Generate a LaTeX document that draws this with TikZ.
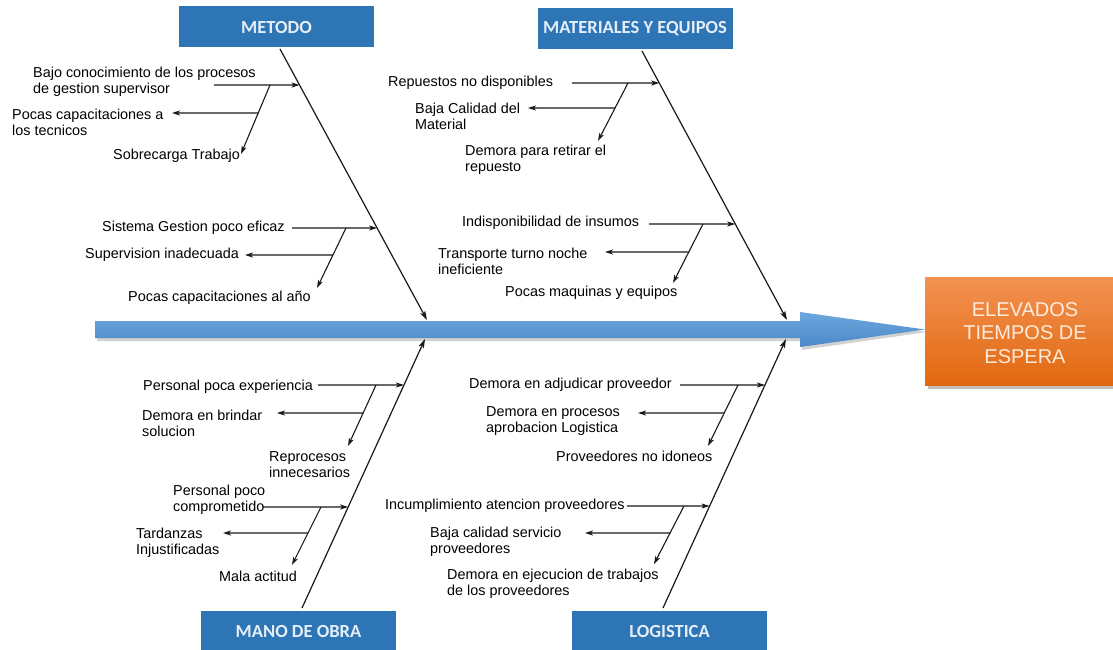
\documentclass[tikz,border=0pt]{standalone}
\usepackage{fontspec}
\setmainfont{Liberation Sans}
\newfontfamily\capfont{Carlito}
\usetikzlibrary{arrows.meta,calc}

\definecolor{catblue}{HTML}{2E75B6}
\definecolor{cattext}{HTML}{E4EEF8}
\definecolor{spinetop}{HTML}{6DA7DF}
\definecolor{spinebot}{HTML}{4C88C8}
\definecolor{headtop}{HTML}{F29252}
\definecolor{headbot}{HTML}{E2680F}
\definecolor{headtext}{HTML}{FDEBDD}

\tikzset{
  txt/.style={font=\fontsize{14.4}{16}\selectfont, align=left, inner sep=0pt, anchor=west, text=black},
  cat/.style={fill=catblue, text=cattext, font=\capfont\bfseries\fontsize{18.5}{20}\selectfont,
              minimum width=195, minimum height=41, inner sep=0pt},
  bone/.style={line width=1.2pt, draw=black!90, -{Stealth[length=9pt,width=5.5pt,inset=2pt]}},
  sub/.style={line width=1.1pt, draw=black!90, -{Stealth[length=8pt,width=5pt,inset=2pt]}},
}

\begin{document}
\begin{tikzpicture}[x=1pt,y=-1pt]
\useasboundingbox (0,0) rectangle (1113,650);
\clip (0,0) rectangle (1113,650);
\fill[white] (0,0) rectangle (1113,650);

% ---------- main spine arrow ----------
\fill[black, opacity=0.18] (97,324) -- (802,324) -- (802,315) -- (927,332) -- (802,350) -- (802,341) -- (97,341) -- cycle;
\shade[top color=spinetop, bottom color=spinebot]
  (95,321) -- (800,321) -- (800,312) -- (925,329.5) -- (800,347) -- (800,338) -- (95,338) -- cycle;

% ---------- effect box ----------
\fill[black, opacity=0.25] (928,281) rectangle (1120,389);
\shade[top color=headtop, bottom color=headbot] (925,277) rectangle (1120,385);
\node[font=\fontsize{20}{23.5}\selectfont, text=headtext, align=center] (effect) at (1025,333)
  {ELEVADOS\\TIEMPOS DE\\ESPERA};

% ---------- category boxes ----------
\node[cat] (metodo) at (276.5,27) {METODO};
\node[cat] (materiales) at (635,29) {MATERIALES Y EQUIPOS};
\node[cat] (mano) at (298.5,631) {MANO DE OBRA};
\node[cat] (logistica) at (669.5,631) {LOGISTICA};

% ---------- main bones ----------
\coordinate (mA) at (280,49);  \coordinate (mB) at (427,320);
\coordinate (eA) at (642,51);  \coordinate (eB) at (787,320);
\coordinate (oA) at (302,608); \coordinate (oB) at (425,339);
\coordinate (lA) at (663,608); \coordinate (lB) at (786,339);
\draw[bone] (mA) -- (mB);
\draw[bone] (eA) -- (eB);
\draw[bone] (oA) -- (oB);
\draw[bone] (lA) -- (lB);

% ---------- METODO, upper group ----------
\node[txt] (m1) at (33,82) {Bajo conocimiento de los procesos\\de gestion supervisor};
\node[txt] (m2) at (12,122) {Pocas capacitaciones a\\los tecnicos};
\node[txt] (m3) at (113,156) {Sobrecarga Trabajo};
\coordinate (m1s) at (214,85);
\coordinate (m1e) at ($(mA)!{(85-49)/271}!(mB)$);
\coordinate (m1t) at (270,85); \coordinate (m1b) at (241,154);
\coordinate (m2s) at ($(m1t)!{28/69}!(m1b)$);
\coordinate (m2e) at (172,113);
\draw[sub] (m1s) -- (m1e);
\draw[sub] (m1t) -- (m1b);
\draw[sub] (m2s) -- (m2e);

% ---------- METODO, lower group ----------
\node[txt] (m4) at (102,228) {Sistema Gestion poco eficaz};
\node[txt] (m5) at (85,255) {Supervision inadecuada};
\node[txt] (m6) at (128,298) {Pocas capacitaciones al año};
\coordinate (m4s) at (292,228);
\coordinate (m4e) at ($(mA)!{(228-49)/271}!(mB)$);
\coordinate (m4t) at (346,228); \coordinate (m4b) at (317,288);
\coordinate (m5s) at ($(m4t)!{27/60}!(m4b)$);
\coordinate (m5e) at (245,255);
\draw[sub] (m4s) -- (m4e);
\draw[sub] (m4t) -- (m4b);
\draw[sub] (m5s) -- (m5e);

% ---------- MATERIALES Y EQUIPOS, upper group ----------
\node[txt] (e1) at (388,83) {Repuestos no disponibles};
\node[txt] (e2) at (415,116.5) {Baja Calidad del\\Material};
\node[txt] (e3) at (465,159.5) {Demora para retirar el\\repuesto};
\coordinate (e1s) at (572,83);
\coordinate (e1e) at ($(eA)!{(83-51)/269}!(eB)$);
\coordinate (e1t) at (628,83); \coordinate (e1b) at (598,141);
\coordinate (e2s) at ($(e1t)!{25/58}!(e1b)$);
\coordinate (e2e) at (528,108);
\draw[sub] (e1s) -- (e1e);
\draw[sub] (e1t) -- (e1b);
\draw[sub] (e2s) -- (e2e);

% ---------- MATERIALES Y EQUIPOS, lower group ----------
\node[txt] (e4) at (462,223) {Indisponibilidad de insumos};
\node[txt] (e5) at (438,261) {Transporte turno noche\\ineficiente};
\node[txt] (e6) at (505,293) {Pocas maquinas y equipos};
\coordinate (e4s) at (649,224);
\coordinate (e4e) at ($(eA)!{(224-51)/269}!(eB)$);
\coordinate (e4t) at (703,224); \coordinate (e4b) at (673,283);
\coordinate (e5s) at ($(e4t)!{28/59}!(e4b)$);
\coordinate (e5e) at (605,252);
\draw[sub] (e4s) -- (e4e);
\draw[sub] (e4t) -- (e4b);
\draw[sub] (e5s) -- (e5e);

% ---------- MANO DE OBRA, upper group ----------
\node[txt] (o1) at (143,387) {Personal poca experiencia};
\node[txt] (o2) at (142,423) {Demora en brindar\\solucion};
\node[txt] (o3) at (269,464.5) {Reprocesos\\innecesarios};
\coordinate (o1s) at (318,385);
\coordinate (o1e) at ($(oA)!{(608-385)/269}!(oB)$);
\coordinate (o1t) at (376,385); \coordinate (o1b) at (348,446);
\coordinate (o2s) at ($(o1t)!{28/61}!(o1b)$);
\coordinate (o2e) at (277,413);
\draw[sub] (o1s) -- (o1e);
\draw[sub] (o1t) -- (o1b);
\draw[sub] (o2s) -- (o2e);

% ---------- MANO DE OBRA, lower group ----------
\node[txt] (o4) at (173,499.5) {Personal poco\\comprometido};
\node[txt] (o5) at (136,543) {Tardanzas\\Injustificadas};
\node[txt] (o6) at (219,576) {Mala actitud};
\coordinate (o4s) at (263,507);
\coordinate (o4e) at ($(oA)!{(608-507)/269}!(oB)$);
\coordinate (o4t) at (321,507); \coordinate (o4b) at (292,565);
\coordinate (o5s) at ($(o4t)!{26/58}!(o4b)$);
\coordinate (o5e) at (223,533);
\draw[sub] (o4s) -- (o4e);
\draw[sub] (o4t) -- (o4b);
\draw[sub] (o5s) -- (o5e);

% ---------- LOGISTICA, upper group ----------
\node[txt] (l1) at (469,385) {Demora en adjudicar proveedor};
\node[txt] (l2) at (486,421.5) {Demora en procesos\\aprobacion Logistica};
\node[txt] (l3) at (556,456) {Proveedores no idoneos};
\coordinate (l1s) at (680,385);
\coordinate (l1e) at ($(lA)!{(608-385)/269}!(lB)$);
\coordinate (l1t) at (738,385); \coordinate (l1b) at (708,446);
\coordinate (l2s) at ($(l1t)!{28/61}!(l1b)$);
\coordinate (l2e) at (638,413);
\draw[sub] (l1s) -- (l1e);
\draw[sub] (l1t) -- (l1b);
\draw[sub] (l2s) -- (l2e);

% ---------- LOGISTICA, lower group ----------
\node[txt] (l4) at (385,506) {Incumplimiento atencion proveedores};
\node[txt] (l5) at (430,542) {Baja calidad servicio\\proveedores};
\node[txt] (l6) at (447,584) {Demora en ejecucion de trabajos\\de los proveedores};
\coordinate (l4s) at (627,506);
\coordinate (l4e) at ($(lA)!{(608-506)/269}!(lB)$);
\coordinate (l4t) at (684,506); \coordinate (l4b) at (654,564);
\coordinate (l5s) at ($(l4t)!{27/58}!(l4b)$);
\coordinate (l5e) at (585,533);
\draw[sub] (l4s) -- (l4e);
\draw[sub] (l4t) -- (l4b);
\draw[sub] (l5s) -- (l5e);
\end{tikzpicture}
\end{document}
